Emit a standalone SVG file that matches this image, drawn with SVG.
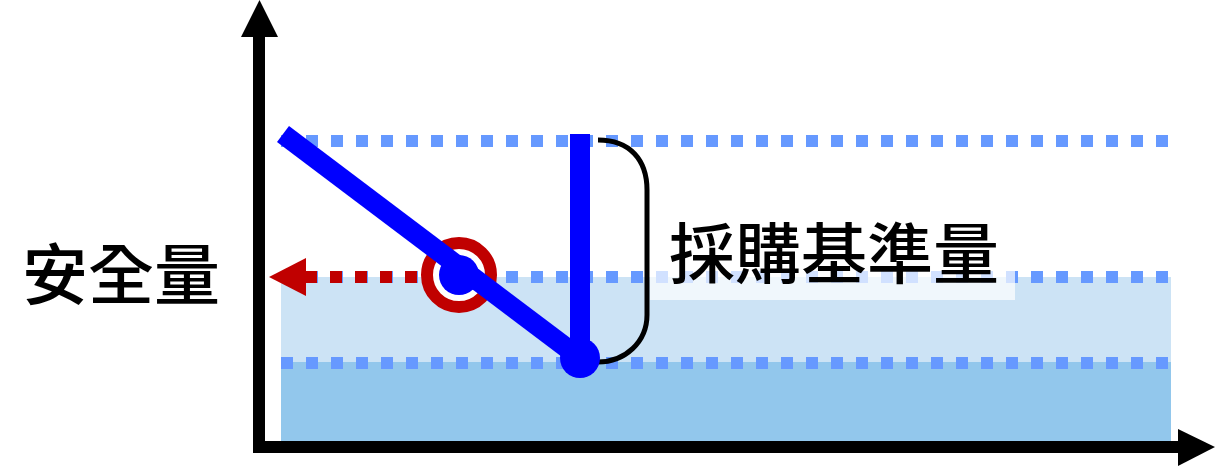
<svg xmlns="http://www.w3.org/2000/svg" width="1217" height="467" viewBox="0 0 1217 467">
<style>
.lvl{stroke:#6699ff;stroke-width:12;stroke-dasharray:12 13;fill:none}
.axis{stroke:#000;stroke-width:12;fill:none}
.lbl{font-family:"Noto Sans CJK TC","Noto Sans CJK SC",sans-serif;font-weight:500;font-size:66px;fill:#000}
</style>
<rect width="1217" height="467" fill="#fff"/>
<g id="zones">
<rect x="281" y="277" width="890" height="85" fill="#cce3f5"/>
<rect x="281" y="362" width="890" height="79" fill="#92c7ec"/>
</g>
<g id="levels">
<line class="lvl" x1="281" y1="141" x2="1170" y2="141"/>
<line class="lvl" x1="281" y1="277" x2="1170" y2="277"/>
<line class="lvl" x1="281" y1="363" x2="1170" y2="363"/>
</g>
<g id="axes">
<path class="axis" d="M259 37 V447 H1178"/>
<polygon points="259.5,0 241,37 278,37" fill="#000"/>
<polygon points="1215,447 1178,429 1178,466" fill="#000"/>
</g>
<g id="connectors">
<line x1="305" y1="277" x2="440" y2="277" stroke="#c00000" stroke-width="12" stroke-dasharray="12 13"/>
<polygon points="269,277 306,258 306,296" fill="#c00000"/>
<path d="M598 140 C630 140 647 160 647 190 V315 C647 342 625 362 598 362" fill="none" stroke="#000" stroke-width="5"/>
</g>
<g id="label-box">
<rect x="650" y="205" width="365" height="95" fill="#fff" fill-opacity="0.7"/>
<text class="lbl" x="834" y="278" text-anchor="middle">採購基準量</text>
</g>
<g id="safety-label">
<text class="lbl" x="121" y="299" text-anchor="middle">安全量</text>
</g>
<g id="marker">
<circle cx="459" cy="275" r="32" fill="#fff" stroke="#c00000" stroke-width="12"/>
</g>
<g id="curve">
<line x1="283" y1="134" x2="580" y2="358" stroke="#0000ff" stroke-width="20"/>
<line x1="580" y1="134" x2="580" y2="358" stroke="#0000ff" stroke-width="20"/>
<circle cx="459" cy="275" r="20" fill="#0000ff"/>
<circle cx="580" cy="358" r="20" fill="#0000ff"/>
</g>
</svg>
